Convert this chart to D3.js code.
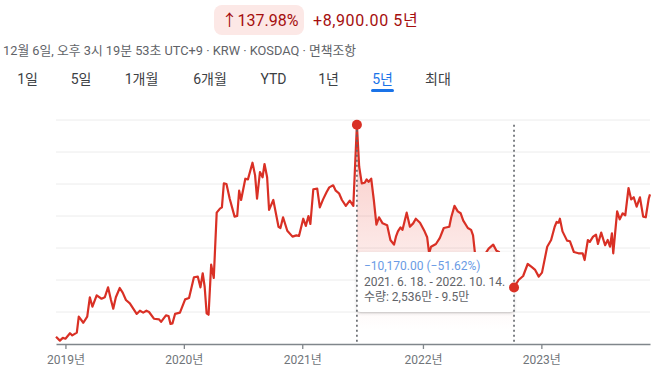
<!DOCTYPE html>
<html>
<head>
<meta charset="utf-8">
<script src="https://cdn.jsdelivr.net/npm/d3@7"></script>
<style>
  body { margin: 0; background: #fff; }
  svg { display: block; font-family: Roboto, "Noto Sans CJK KR", sans-serif; }
</style>
</head>
<body>
<div id="chart"></div>
<script>
const W = 661, H = 372;
const margin = { top: 120, right: 11, bottom: 28, left: 56 };

// weekly-ish closing prices (KRW)
const dates = [
  "2018-12-06","2018-12-18","2018-12-27","2019-01-04","2019-01-18","2019-01-25","2019-02-08","2019-02-14",
  "2019-02-28","2019-03-12","2019-03-20","2019-03-28","2019-04-10","2019-04-25","2019-05-05","2019-05-15",
  "2019-05-24","2019-05-31","2019-06-08","2019-06-20","2019-06-29","2019-07-09","2019-07-21","2019-07-29",
  "2019-08-11","2019-08-21","2019-08-31","2019-09-10","2019-09-18","2019-10-03","2019-10-19","2019-10-25",
  "2019-11-09","2019-11-17","2019-11-23","2019-11-29","2019-12-07","2019-12-22","2020-01-07","2020-01-19",
  "2020-02-03","2020-02-15","2020-02-23","2020-03-01","2020-03-07","2020-03-13","2020-03-19","2020-03-27",
  "2020-04-04","2020-04-13","2020-04-23","2020-04-29","2020-05-05","2020-05-13","2020-05-23","2020-06-07",
  "2020-06-15","2020-06-21","2020-06-27","2020-07-10","2020-07-18","2020-08-01","2020-08-09","2020-08-15",
  "2020-08-24","2020-09-01","2020-09-07","2020-09-15","2020-09-21","2020-10-04","2020-10-20","2020-10-26",
  "2020-11-03","2020-11-16","2020-12-02","2020-12-14","2020-12-22","2021-01-04","2021-01-12","2021-01-20",
  "2021-01-26","2021-02-04","2021-02-16","2021-02-24","2021-03-06","2021-03-17","2021-03-25","2021-04-06",
  "2021-04-14","2021-04-24","2021-05-03","2021-05-15","2021-05-27","2021-06-07","2021-06-18","2021-06-25",
  "2021-07-03","2021-07-12","2021-07-18","2021-07-24","2021-08-01","2021-08-09","2021-08-17","2021-08-25",
  "2021-09-05","2021-09-19","2021-09-29","2021-10-10","2021-10-16","2021-10-22","2021-10-30","2021-11-05",
  "2021-11-18","2021-11-28","2021-12-08","2021-12-16","2021-12-29","2022-01-12","2022-01-20","2022-01-26",
  "2022-02-01","2022-02-16","2022-02-28","2022-03-12","2022-03-29","2022-04-04","2022-04-14","2022-04-24",
  "2022-05-03","2022-05-11","2022-05-25","2022-06-04","2022-06-10","2022-06-16","2022-06-28","2022-07-13",
  "2022-07-28","2022-08-11","2022-08-21","2022-08-29","2022-09-13","2022-09-28","2022-10-14","2022-10-28",
  "2022-11-11","2022-11-25","2022-12-06","2022-12-18","2022-12-29","2023-01-08","2023-01-24","2023-02-05",
  "2023-02-16","2023-02-22","2023-02-28","2023-03-04","2023-03-12","2023-03-26","2023-04-04","2023-04-16",
  "2023-04-30","2023-05-13","2023-05-19","2023-05-29","2023-06-04","2023-06-14","2023-06-23","2023-06-29",
  "2023-07-09","2023-07-21","2023-07-29","2023-08-05","2023-08-11","2023-08-15","2023-08-27","2023-09-04",
  "2023-09-13","2023-09-21","2023-10-01","2023-10-09","2023-10-17","2023-10-26","2023-11-05","2023-11-15",
  "2023-11-23","2023-12-02","2023-12-06"
];
const prices = [
  6450,6210,6380,6330,6670,6540,6710,7710,
  7330,7710,8920,8330,9040,8830,8920,9540,
  8750,8210,8920,9500,9210,8750,8540,8290,
  7880,8080,7960,8080,8000,7580,7540,7380,
  7790,7750,7250,7290,7880,7960,8790,8880,
  10170,10210,9540,10420,9580,7920,7830,10960,
  10130,14210,14460,14540,16040,16000,15080,13960,
  14000,15580,15000,16330,16290,17330,16540,15080,
  16750,16420,17250,16420,14380,15000,13330,13250,
  13920,13080,12710,12790,12750,13830,13380,14000,
  13500,15670,15710,14540,15040,15500,15790,15920,
  15580,15420,15000,14630,14960,14630,19700,17080,
  16040,16080,16290,16130,16330,15000,13460,13920,
  13540,13420,12500,12210,12710,13040,13290,13130,
  14210,13330,13540,13830,13580,13040,12670,11670,
  12080,12250,12630,13250,13330,13920,14630,14290,
  14170,13710,13250,13130,12790,11670,11130,11500,
  11960,12210,11830,11750,10880,10130,9530,10000,
  10250,11000,10830,10630,10210,10460,12080,12500,
  13330,13630,13580,13830,13040,12460,12420,11750,
  11670,11670,11250,12500,12380,12710,12830,12250,
  12960,12170,12500,12080,12920,11670,14290,13790,
  14170,14040,15750,15040,15170,14580,15170,13960,
  13920,15080,15350
];

const yearTicks = ["2019-01-04","2020-01-03","2021-01-01","2022-01-07","2023-01-06"];
const gridValues = [8000, 10000, 12000, 14000, 16000, 18000, 20000];
const rangeStart = "2021-06-18", rangeEnd = "2022-10-14";
const tabs = ["1일", "5일", "1개월", "6개월", "YTD", "1년", "5년", "최대"];
const tabCenters = [27.5, 81, 141.5, 210, 273.5, 328.5, 382.5, 438];
const activeTab = "5년";

const parse = d3.timeParse("%Y-%m-%d");
const data = dates.map((d, i) => ({ date: parse(d), price: prices[i] }));

const svg = d3.select("#chart").append("svg")
    .attr("width", W).attr("height", H);

const x = d3.scaleTime()
    .domain([parse("2018-12-06"), parse("2023-12-06")])
    .range([margin.left, W - margin.right]);
const y = d3.scaleLinear()
    .domain([6000, 20000])
    .range([H - margin.bottom, margin.top]);

const defs = svg.append("defs");
const grad = defs.append("linearGradient")
    .attr("id", "fillGrad")
    .attr("gradientUnits", "userSpaceOnUse")
    .attr("x1", 0).attr("x2", 0).attr("y1", 124).attr("y2", 330);
grad.append("stop").attr("offset", 0).attr("stop-color", "#ea4335").attr("stop-opacity", 0.3);
grad.append("stop").attr("offset", 1).attr("stop-color", "#ea4335").attr("stop-opacity", 0);
const shadow = defs.append("filter").attr("id", "shadow")
    .attr("x", "-10%").attr("y", "-20%").attr("width", "120%").attr("height", "150%");
shadow.append("feDropShadow").attr("dx", 0).attr("dy", 1).attr("stdDeviation", 1.5)
    .attr("flood-color", "#3c4043").attr("flood-opacity", 0.3);

// header
svg.append("rect")
    .attr("x", 214).attr("y", 5).attr("width", 90).attr("height", 30).attr("rx", 8)
    .attr("fill", "#fce8e6");
svg.append("text")
    .attr("x", 260).attr("y", 20).attr("dy", "0.35em").attr("text-anchor", "middle")
    .style("font-size", "16px").attr("fill", "#a50e0e")
    .text("↑137.98%");
svg.append("text")
    .attr("x", 313).attr("y", 20).attr("dy", "0.35em")
    .style("font-size", "16px").style("letter-spacing", "0.6px").attr("fill", "#a50e0e")
    .text("+8,900.00 5년");

svg.append("text")
    .attr("x", 3).attr("y", 51).attr("dy", "0.35em")
    .style("font-size", "12.8px").attr("fill", "#5f6368")
    .text("12월 6일, 오후 3시 19분 53초 UTC+9 · KRW · KOSDAQ · 면책조항");

tabs.forEach((t, i) => {
    svg.append("text")
        .attr("x", tabCenters[i]).attr("y", 79).attr("dy", "0.35em")
        .attr("text-anchor", "middle")
        .style("font-size", "14px")
        .attr("fill", t === activeTab ? "#1a73e8" : "#3c4043")
        .text(t);
});
svg.append("rect")
    .attr("x", 371).attr("y", 89).attr("width", 23).attr("height", 3).attr("rx", 1.5)
    .attr("fill", "#1a73e8");

// gridlines
svg.append("g").selectAll("line")
    .data(gridValues)
    .join("line")
    .attr("x1", margin.left).attr("x2", W - margin.right)
    .attr("y1", d => y(d)).attr("y2", d => y(d))
    .attr("stroke", "#ececec").attr("stroke-width", 1);

// x axis
const xAxis = svg.append("g")
    .attr("transform", `translate(0,${H - margin.bottom})`)
    .call(d3.axisBottom(x)
        .tickValues(yearTicks.map(parse))
        .tickFormat(d3.timeFormat("%Y년"))
        .tickSize(5).tickSizeOuter(0).tickPadding(6));
xAxis.select(".domain").attr("stroke", "#80868b").attr("stroke-width", 1.3);
xAxis.selectAll(".tick line").attr("stroke", "#80868b").attr("stroke-width", 1.3);
xAxis.selectAll(".tick text")
    .style("font-size", "12px").style("font-family", "Roboto, 'Noto Sans CJK KR', sans-serif")
    .attr("fill", "#70757a");

// selected range fill
const t0 = parse(rangeStart), t1 = parse(rangeEnd);
const inRange = data.filter(d => d.date >= t0 && d.date <= t1);
svg.append("path")
    .datum(inRange)
    .attr("fill", "url(#fillGrad)")
    .attr("d", d3.area()
        .x(d => x(d.date))
        .y0(y(6000))
        .y1(d => y(d.price)));

// price line
svg.append("path")
    .datum(data)
    .attr("fill", "none")
    .attr("stroke", "#d93025")
    .attr("stroke-width", 2.2)
    .attr("stroke-linejoin", "round")
    .attr("d", d3.line().x(d => x(d.date)).y(d => y(d.price)));

// tooltip
const p0 = data.find(d => +d.date === +t0);
const p1 = data.find(d => +d.date === +t1);
const tip = svg.append("g");
tip.append("rect")
    .attr("x", x(t0)).attr("y", 252)
    .attr("width", x(t1) - x(t0)).attr("height", 60).attr("rx", 4)
    .attr("fill", "#fff").attr("filter", "url(#shadow)");
const fmt = d3.format(",.2f");
const diff = p1.price - p0.price;
tip.append("text")
    .attr("x", x(t0) + 7).attr("y", 266).attr("dy", "0.35em")
    .style("font-size", "12px").attr("fill", "#6a9be5")
    .text(`${fmt(diff)} (${d3.format(".2f")(diff / p0.price * 100)}%)`);
tip.append("text")
    .attr("x", x(t0) + 7).attr("y", 281.5).attr("dy", "0.35em")
    .style("font-size", "12px").attr("fill", "#5f6368")
    .text("2021. 6. 18. - 2022. 10. 14.");
tip.append("text")
    .attr("x", x(t0) + 7).attr("y", 296.5).attr("dy", "0.35em")
    .style("font-size", "12px").attr("fill", "#5f6368")
    .text("수량: 2,536만 - 9.5만");

// range markers
[p0, p1].forEach(p => {
    svg.append("line")
        .attr("x1", x(p.date)).attr("x2", x(p.date))
        .attr("y1", y(p0.price)).attr("y2", H - margin.bottom)
        .attr("stroke", "#5f6368").attr("stroke-width", 1.6)
        .attr("stroke-dasharray", "2,3");
    svg.append("circle")
        .attr("cx", x(p.date)).attr("cy", y(p.price)).attr("r", 5)
        .attr("fill", "#d93025");
});
</script>
</body>
</html>
